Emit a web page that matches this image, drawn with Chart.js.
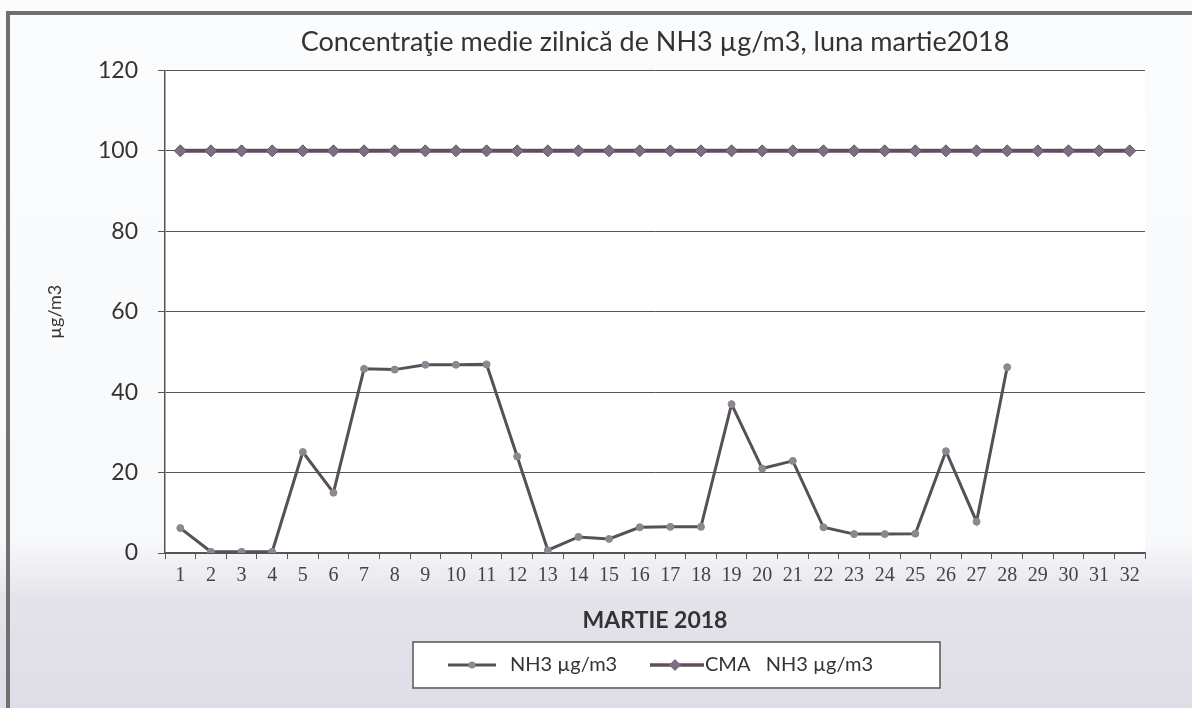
<!DOCTYPE html>
<html>
<head>
<meta charset="utf-8">
<script src="https://cdn.jsdelivr.net/npm/chart.js@4"></script>
<style>
  body { margin: 0; background: #fff; }
  #wrap {
    position: relative; width: 1192px; height: 708px; overflow: hidden;
    background: linear-gradient(to bottom, #fbfcfd 0px, #f8f9fb 540px, #e4e3ea 600px, #dfdee8 708px);
  }
  #frame {
    position: absolute; left: 6px; top: 11px; width: 1200px; height: 720px;
    border: 4px solid #707070; pointer-events: none;
  }
  canvas { position: absolute; left: 0; top: 0; }
</style>
</head>
<body>
<div id="wrap">
  <canvas id="chart" width="1192" height="708"></canvas>
  <div id="frame"></div>
</div>
<script>
const days = ["1","2","3","4","5","6","7","8","9","10","11","12","13","14","15","16",
  "17","18","19","20","21","22","23","24","25","26","27","28","29","30","31","32"];

const nh3 = [6.2, 0.3, 0.3, 0.3, 25.1, 15, 45.8, 45.6, 46.8, 46.8, 46.9, 24, 0.7, 4, 3.5, 6.4,
  6.5, 6.5, 37, 21, 22.9, 6.4, 4.7, 4.7, 4.8, 25.3, 7.8, 46.2, null, null, null, null];

const cma = [100, 100, 100, 100, 100, 100, 100, 100, 100, 100, 100, 100, 100, 100, 100, 100,
  100, 100, 100, 100, 100, 100, 100, 100, 100, 100, 100, 100, 100, 100, 100, 100];

const yTicks = [0, 20, 40, 60, 80, 100, 120];

const nh3Line = "#575057", nh3Mark = "#8e8690";
const cmaLine = "#5f4f5d", cmaMark = "#7a7080";

// white plot area, and the boxed legend drawn under the x axis title
const boxes = {
  id: "boxes",
  beforeDraw(chart) {
    const a = chart.chartArea;
    const ctx = chart.ctx;
    ctx.save();
    ctx.fillStyle = "#fff";
    ctx.fillRect(a.left, a.top, a.right - a.left, a.bottom - a.top);
    ctx.fillRect(413, 642, 527, 46);
    ctx.restore();
  },
  afterDraw(chart) {
    const ctx = chart.ctx;
    const ds = chart.data.datasets;
    const y = 665;
    ctx.save();
    ctx.strokeStyle = "#555";
    ctx.lineWidth = 1.5;
    ctx.strokeRect(413, 642, 527, 46);

    // first entry
    ctx.strokeStyle = nh3Line; ctx.lineWidth = 3;
    ctx.beginPath(); ctx.moveTo(448, y); ctx.lineTo(496, y); ctx.stroke();
    ctx.fillStyle = nh3Mark;
    ctx.beginPath(); ctx.arc(472, y, 3.5, 0, Math.PI * 2); ctx.fill();

    // second entry
    ctx.strokeStyle = cmaLine; ctx.lineWidth = 3.5;
    ctx.beginPath(); ctx.moveTo(650, y); ctx.lineTo(704, y); ctx.stroke();
    ctx.fillStyle = cmaMark;
    ctx.beginPath();
    ctx.moveTo(675, y - 6); ctx.lineTo(681, y); ctx.lineTo(675, y + 6); ctx.lineTo(669, y);
    ctx.closePath(); ctx.fill();

    ctx.fillStyle = "#333";
    ctx.font = "20px Lato";
    ctx.textBaseline = "middle";
    ctx.fillText(ds[0].label, 510, y);
    ctx.fillText(ds[1].label, 705, y);
    ctx.restore();
  }
};

new Chart(document.getElementById("chart"), {
  type: "line",
  data: {
    labels: days,
    datasets: [
      {
        label: "NH3 µg/m3",
        data: nh3,
        borderColor: nh3Line,
        borderWidth: 3,
        pointRadius: 3.5,
        pointBackgroundColor: nh3Mark,
        pointBorderColor: nh3Mark,
        pointBorderWidth: 1,
        tension: 0
      },
      {
        label: "CMA   NH3 µg/m3",
        data: cma,
        borderColor: cmaLine,
        borderWidth: 4,
        pointStyle: "rectRot",
        pointRadius: 6,
        pointBackgroundColor: cmaMark,
        pointBorderColor: "#5f5565",
        pointBorderWidth: 1,
        tension: 0
      }
    ]
  },
  plugins: [boxes],
  options: {
    responsive: false,
    animation: false,
    layout: { padding: { left: 10, right: 47, top: 0, bottom: 70 } },
    plugins: {
      title: {
        display: true,
        fullSize: false,
        text: "Concentraţie medie zilnică de NH3 µg/m3, luna martie2018",
        color: "#333",
        font: { family: "Lato", size: 27, weight: "normal" },
        padding: { top: 26, bottom: 12 }
      },
      legend: { display: false },
      tooltip: { enabled: false }
    },
    scales: {
      x: {
        offset: true,
        afterFit(scale) { scale.height = 85; },
        grid: {
          offset: true,
          drawOnChartArea: false,
          drawTicks: true,
          tickLength: 6,
          color: "#555"
        },
        border: { color: "#555", width: 1.5 },
        ticks: {
          color: "#444",
          font: { family: "Liberation Serif", size: 20 },
          padding: 5,
          maxRotation: 0,
          autoSkip: false
        },
        title: {
          display: true,
          text: "MARTIE 2018",
          color: "#333",
          font: { family: "Lato", size: 23, weight: "bold" },
          padding: { top: 10, bottom: 4 }
        }
      },
      y: {
        min: 0,
        max: 120,
        afterBuildTicks(scale) {
          scale.ticks = yTicks.map(v => ({ value: v }));
        },
        afterFit(scale) { scale.width = 155; },
        grid: {
          color: "#555",
          lineWidth: 1,
          tickLength: 7
        },
        border: { color: "#555", width: 1.5 },
        ticks: {
          color: "#333",
          font: { family: "Lato", size: 23 },
          padding: 20
        },
        title: {
          display: true,
          text: "µg/m3",
          color: "#333",
          font: { family: "Lato", size: 18 },
          padding: { top: 34, bottom: 0 }
        }
      }
    }
  }
});
</script>
</body>
</html>
